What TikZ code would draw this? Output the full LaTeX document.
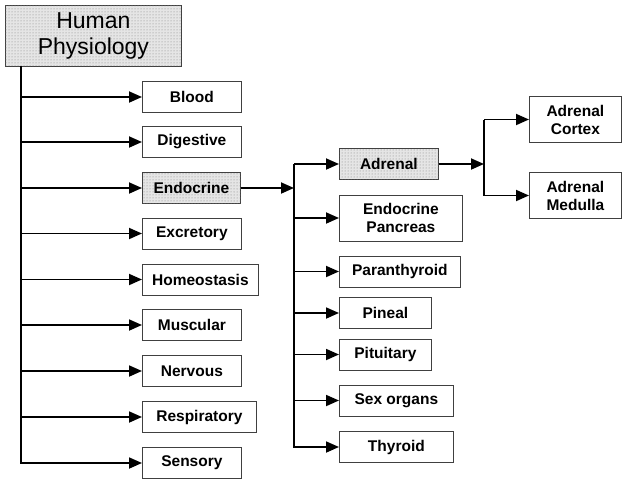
\documentclass[tikz,border=0pt]{standalone}
\usepackage{fontspec}
\setmainfont{Liberation Sans}
\usetikzlibrary{arrows.meta,patterns}
\tikzset{
  box/.style={draw=black!75, line width=0.8pt, fill=white, anchor=west, minimum height=31pt,
    inner sep=0pt, align=center, font=\fontsize{15.5}{18}\selectfont\bfseries},
  tall/.style={minimum height=46pt},
  shaded/.style={fill=gray!20, postaction={pattern=dots, pattern color=gray}},
  link/.style={line width=1.8pt, -{Triangle[length=13pt,width=11pt]}},
  plain/.style={line width=1.8pt}
}
\begin{document}
\begin{tikzpicture}[x=1pt,y=-1pt]
\useasboundingbox (0,0) rectangle (622,480);
% root
\node[box, shaded, minimum width=176pt, minimum height=61pt,
  font=\fontsize{23}{26}\selectfont] (hp) at (5,35.5) {Human\\Physiology};
% first level
\node[box, minimum width=99pt] (blood) at (142,97) {Blood};
\node[box, minimum width=99pt] (dig) at (142,142) {Digestive};
\node[box, shaded, minimum width=98pt] (endo) at (142,188) {Endocrine};
\node[box, minimum width=99pt] (excr) at (142,233.5) {Excretory};
\node[box, minimum width=116pt] (homeo) at (142,279.5) {Homeostasis};
\node[box, minimum width=99pt] (musc) at (142,325) {Muscular};
\node[box, minimum width=99pt] (nerv) at (142,371) {Nervous};
\node[box, minimum width=114pt] (resp) at (142,417) {Respiratory};
\node[box, minimum width=99pt] (sens) at (142,463) {Sensory};
% trunk
\coordinate (t) at (21,66);
\draw[link] (t) |- (sens.west);
\foreach \n in {blood,dig,endo,excr,homeo,musc,nerv,resp}
  \draw[link] (t |- \n.west) -- (\n.west);
% second level
\node[box, shaded, minimum width=99pt] (adr) at (339,164) {Adrenal};
\node[box, tall, minimum width=123pt] (panc) at (339,218) {Endocrine\\Pancreas};
\node[box, minimum width=121pt] (para) at (339,271.5) {Paranthyroid};
\node[box, minimum width=92pt] (pine) at (339,313) {Pineal};
\node[box, minimum width=92pt] (pitu) at (339,354.5) {Pituitary};
\node[box, minimum width=114pt] (sex) at (339,400.5) {Sex organs};
\node[box, minimum width=114pt] (thy) at (339,447) {Thyroid};
\coordinate (j) at (294,164);
\draw[link] (endo.east) -- (endo.east -| j);
\draw[link] (j) |- (thy.west);
\foreach \n in {adr,panc,para,pine,pitu,sex}
  \draw[link] (j |- \n.west) -- (\n.west);
% third level
\node[box, tall, minimum width=92pt] (cort) at (529,119.5) {Adrenal\\Cortex};
\node[box, tall, minimum width=92pt] (med) at (529,195.5) {Adrenal\\Medulla};
\coordinate (k) at (484,119.5);
\draw[link] (adr.east) -- (adr.east -| k);
\draw[plain] (k) -- (k |- med.west);
\draw[link] (k) -- (cort.west);
\draw[link] (k |- med.west) -- (med.west);
\end{tikzpicture}
\end{document}
